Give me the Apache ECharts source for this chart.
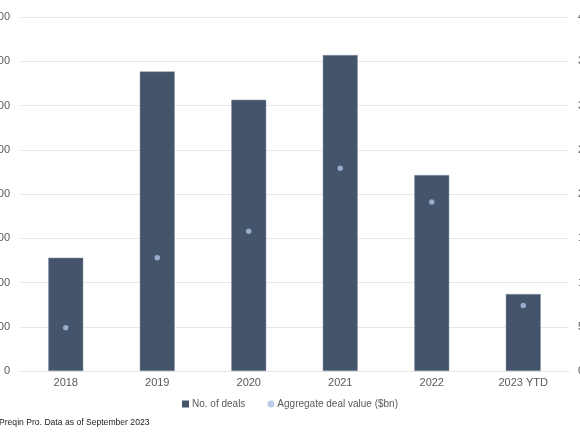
<!DOCTYPE html>
<html>
<head>
<meta charset="utf-8">
<script src="https://cdn.jsdelivr.net/npm/echarts@6/dist/echarts.min.js"></script>
<style>
  html, body { margin: 0; padding: 0; background: #fff; }
  #chart { width: 580px; height: 435px; }
</style>
</head>
<body>
<div id="chart"></div>
<script>
// data
const years = ['2018', '2019', '2020', '2021', '2022', '2023 YTD'];
const dealCounts = [256, 677, 613, 714, 443, 174];
const dealValues = [4.9, 12.8, 15.8, 22.9, 19.1, 7.4];
const sourceNote = 'Preqin Pro. Data as of September 2023';

const labelColor = '#595959';
const gridColor = '#e6e6e6';

const chart = echarts.init(document.getElementById('chart'));

chart.setOption({
    animation: false,
    grid: { left: 20, right: 11, top: 17, bottom: 64, containLabel: false, outerBoundsMode: 'none' },
    legend: {
        bottom: 21,
        left: 'center',
        itemWidth: 7,
        itemHeight: 7,
        itemGap: 22,
        itemStyle: { borderWidth: 0 },
        textStyle: { color: labelColor, fontSize: 10, fontFamily: 'Liberation Sans', padding: [0, 0, 0, -2] },
        data: [
            { name: 'No. of deals', icon: 'rect' },
            { name: 'Aggregate deal value ($bn)', icon: 'circle' }
        ]
    },
    xAxis: {
        type: 'category',
        data: years,
        axisTick: { show: false },
        axisLine: { lineStyle: { color: gridColor } },
        axisLabel: { color: labelColor, fontSize: 11, margin: 6, fontFamily: 'Liberation Sans' }
    },
    yAxis: [{
        type: 'value',
        min: 0,
        max: 800,
        interval: 100,
        axisLabel: { color: labelColor, fontSize: 11, margin: 10, fontFamily: 'Liberation Sans' },
        splitLine: { lineStyle: { color: gridColor } }
    }, {
        type: 'value',
        min: 0,
        max: 40,
        interval: 5,
        axisLabel: { color: labelColor, fontSize: 11, margin: 9, fontFamily: 'Liberation Sans' },
        splitLine: { show: false }
    }],
    series: [{
        name: 'No. of deals',
        type: 'bar',
        data: dealCounts,
        barWidth: 35,
        itemStyle: { color: '#44546a', borderColor: '#8a97a8', borderWidth: 0.5 }
    }, {
        name: 'Aggregate deal value ($bn)',
        type: 'scatter',
        yAxisIndex: 1,
        data: dealValues,
        symbolSize: 5.5,
        itemStyle: { color: '#adc0e4' }
    }],
    graphic: [{
        type: 'text',
        left: -1,
        top: 418,
        style: {
            text: sourceNote,
            fill: '#222',
            fontSize: 8.6,
            fontFamily: 'Liberation Sans'
        }
    }]
});
</script>
</body>
</html>
